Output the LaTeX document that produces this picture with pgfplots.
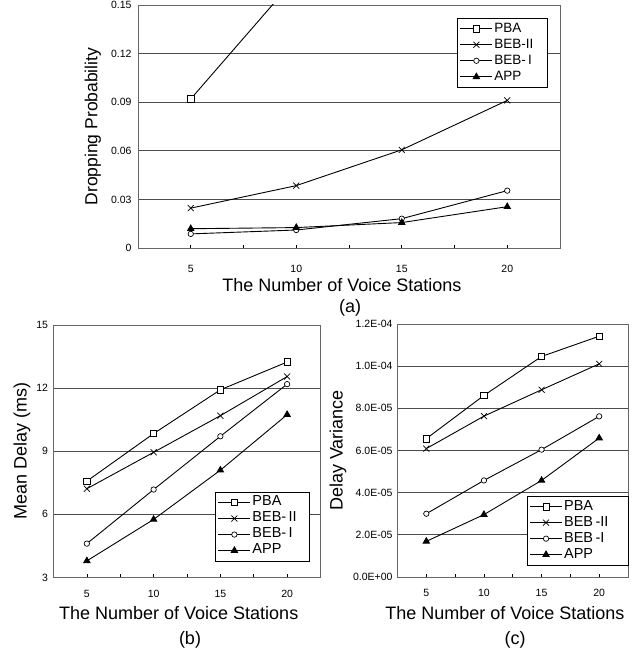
\documentclass[border=0pt]{standalone}
\usepackage{pgfplots}
\pgfplotsset{compat=1.18}
\usepackage{fontspec}
\setmainfont{Liberation Sans}
\pgfplotsset{
  myaxis/.style={
    scale only axis, anchor=south west,
    xmin=2.5, xmax=22.5,
    xtick={5,10,15,20},
    minor xtick={2.5,7.5,12.5,17.5,22.5},
    tick align=inside, major tick length=3pt, minor tick length=3pt,
    xtick pos=bottom, ytick pos=left,
    ytick style={draw=none},
    tick style={black, line width=0.6pt},
    ymajorgrids, major grid style={black!70, line width=0.8pt},
    axis line style={black!60, line width=0.8pt},
    /pgf/number format/assume math mode=true,
    tick label style={font=\fontsize{10.5}{12}\selectfont},
    label style={font=\fontsize{18}{20}\selectfont},
    legend style={draw=black, line width=0.8pt, fill=white,
      font=\fontsize{13.5}{15}\selectfont, inner sep=2.5pt,
      nodes={inner sep=1.6pt, text height=9.8pt, text depth=3pt},
      anchor=north west},
    legend cell align=left,
    legend image code/.code={%
      \draw[mark repeat=2,mark phase=2] plot coordinates {(0pt,0pt) (16pt,0pt) (32pt,0pt)};},
    every axis plot/.append style={line width=0.9pt, black},
  },
  sPBA/.style={mark=square*, mark size=3.2pt, mark options={fill=white, line width=0.7pt}},
  sBEBII/.style={mark=x, mark size=4.2pt, mark options={line width=0.7pt}},
  sBEBI/.style={mark=*, mark size=2.7pt, mark options={fill=white, line width=0.7pt}},
  sAPP/.style={mark=triangle*, mark size=3.6pt, mark options={fill=black}},
}
\begin{document}
\begin{tikzpicture}
\useasboundingbox (0pt,0pt) rectangle (639pt,652pt);
% (a)
\begin{axis}[myaxis, at={(138pt,404pt)}, width=422pt, height=243pt,
  ymin=0, ymax=0.15, ytick={0,0.03,0.06,0.09,0.12,0.15},
  yticklabels={0,0.03,0.06,0.09,0.12,0.15},
  yticklabel style={xshift=-3pt},
  xticklabel style={yshift=-14pt},
  xlabel={The Number of Voice Stations}, ylabel={Dropping Probability},
  xlabel style={at={(axis description cs:0.483,-0.152)}, anchor=center},
  ylabel style={font=\fontsize{17.5}{20}\selectfont, at={(axis description cs:-0.107,0.5)}, anchor=center, rotate=0},
  legend style={at={(axis description cs:0.756,0.947)}}]
\addplot[sPBA] coordinates {(5,0.092) (10,0.167)};
\addplot[sBEBII] coordinates {(5,0.0246) (10,0.0385) (15,0.0606) (20,0.0911)};
\addplot[sBEBI] coordinates {(5,0.0087) (10,0.0111) (15,0.0181) (20,0.0354)};
\addplot[sAPP] coordinates {(5,0.0119) (10,0.0126) (15,0.0157) (20,0.0255)};
\legend{PBA,BEB-II\rule{10pt}{0pt},BEB-\,I,APP}
\end{axis}
% (b)
\begin{axis}[myaxis, at={(53.5pt,74.5pt)}, width=267pt, height=252.5pt,
  ymin=3, ymax=15, ytick={3,6,9,12,15},
  yticklabel style={xshift=-2pt},
  xticklabel style={yshift=-9pt},
  xlabel={The Number of Voice Stations}, ylabel={Mean Delay (ms)},
  xlabel style={at={(axis description cs:0.469,-0.1406)}, anchor=center},
  ylabel style={at={(axis description cs:-0.118,0.5)}, anchor=center, rotate=0},
  legend style={at={(axis description cs:0.605,0.340)}, font=\fontsize{14.5}{16}\selectfont}]
\addplot[sPBA] coordinates {(5,7.58) (10,9.84) (15,11.92) (20,13.24)};
\addplot[sBEBII] coordinates {(5,7.22) (10,8.95) (15,10.69) (20,12.55)};
\addplot[sBEBI] coordinates {(5,4.61) (10,7.18) (15,9.71) (20,12.19)};
\addplot[sAPP] coordinates {(5,3.79) (10,5.76) (15,8.10) (20,10.74)};
\legend{PBA,BEB-\,II\rule{9pt}{0pt},BEB-\,I,APP}
\end{axis}
% (c)
\begin{axis}[myaxis, at={(397.5pt,75pt)}, width=230.5pt, height=253pt,
  ymin=0, ymax=1.2e-4, ytick={0,2e-5,4e-5,6e-5,8e-5,1e-4,1.2e-4},
  yticklabels={0.0E+00,2.0E-05,4.0E-05,6.0E-05,8.0E-05,1.0E-04,1.2E-04},
  scaled y ticks=false,
  yticklabel style={xshift=-1.5pt},
  xticklabel style={yshift=-9pt},
  xlabel={The Number of Voice Stations}, ylabel={Delay Variance},
  xlabel style={at={(axis description cs:0.466,-0.142)}, anchor=center},
  ylabel style={at={(axis description cs:-0.258,0.5)}, anchor=center, rotate=0},
  legend style={at={(axis description cs:0.5605,0.321)}, font=\fontsize{14.5}{16}\selectfont}]
\addplot[sPBA] coordinates {(5,6.56e-5) (10,8.61e-5) (15,10.46e-5) (20,11.42e-5)};
\addplot[sBEBII] coordinates {(5,6.09e-5) (10,7.63e-5) (15,8.88e-5) (20,10.11e-5)};
\addplot[sBEBI] coordinates {(5,3.00e-5) (10,4.58e-5) (15,6.04e-5) (20,7.62e-5)};
\addplot[sAPP] coordinates {(5,1.69e-5) (10,2.96e-5) (15,4.58e-5) (20,6.59e-5)};
\legend{PBA,BEB\,-II\rule{16pt}{0pt},BEB\,-I,APP}
\end{axis}
\node[font=\fontsize{18}{20}\selectfont] at (350pt,344pt) {(a)};
\node[font=\fontsize{18}{20}\selectfont] at (190pt,12pt) {(b)};
\node[font=\fontsize{18}{20}\selectfont] at (515pt,12pt) {(c)};
\end{tikzpicture}
\end{document}
